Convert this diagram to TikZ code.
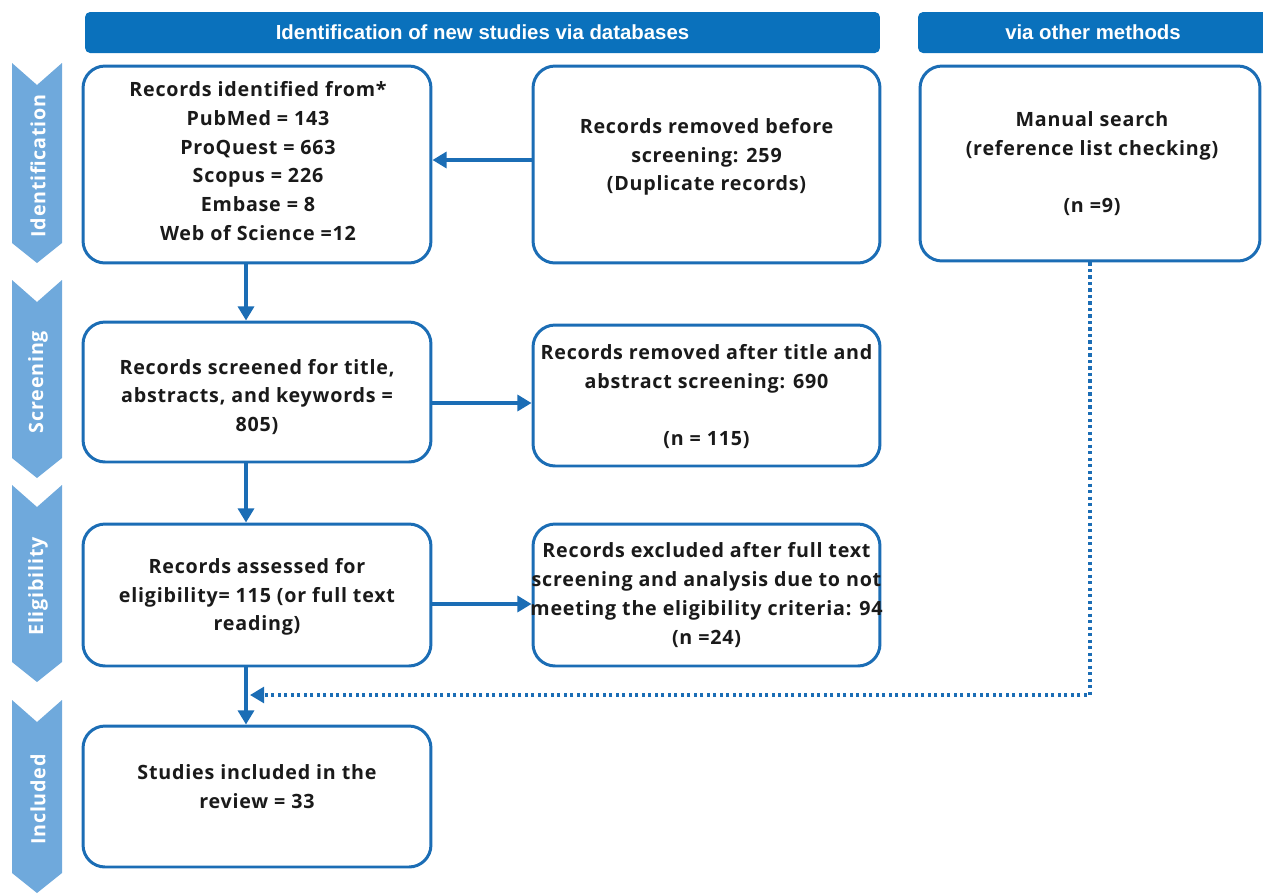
\documentclass[tikz,border=0pt]{standalone}
\usepackage{fontspec}
\setmainfont{Open Sans}[LetterSpace=4]
\newfontfamily\headfont{Liberation Sans}
\usetikzlibrary{arrows.meta}
\definecolor{prismablue}{HTML}{0A71BC}
\definecolor{boxline}{HTML}{1B6DB5}
\definecolor{phase}{HTML}{6FA9DC}
\definecolor{boxtext}{HTML}{1A1A1A}
\tikzset{
  caixa/.style={draw=boxline, line width=1.7pt, rounded corners=0.44cm, fill=white},
  texto/.style={align=center, text=boxtext, font=\fontsize{11.2}{16.4}\selectfont\bfseries},
  cabeca/.style={fill=prismablue, rounded corners=0.1cm, text=white,
    font=\headfont\fontsize{11.6}{14}\selectfont\bfseries, minimum height=0.82cm},
  seta/.style={draw=boxline, line width=2pt, -{Triangle[length=8pt,width=9pt]}},
  pontos/.style={draw=boxline, line width=1.8pt, dash pattern=on 1.8pt off 1.9pt,
    -{Triangle[length=8pt,width=9pt]}},
}
\newcommand{\fase}[4]{%
  \fill[phase] (12,#2) -- (37,#2+22) -- (62,#2) -- (62,#3-20) -- (37,#3) -- (12,#3-20) -- cycle;
  \node[rotate=90, text=white, font=\fontsize{11.2}{12}\selectfont\bfseries] (#1)
    at (38,{(#2+#3)/2+3}) {#4};}

\begin{document}
\begin{tikzpicture}[x=0.02cm, y=-0.02cm]
  \useasboundingbox (0,0) rectangle (1263,893);
  % cabecalhos
  \node[cabeca, minimum width=15.9cm] (hdbase) at (482.5,32.5) {Identification of new studies via databases};
  \node[cabeca, minimum width=7cm] (hdother) at (1093,32.5) {via other methods};
  % fases
  \fase{fident}{63}{263}{Identification}
  \fase{fscreen}{280}{478}{Screening}
  \fase{felig}{485}{682}{Eligibility}
  \fase{fincl}{700}{893}{Included}
  % caixas
  \node[caixa, minimum width=6.96cm, minimum height=3.94cm] (ident) at (257,164.5) {};
  \node[caixa, minimum width=6.94cm, minimum height=3.94cm] (removed) at (706.5,164.5) {};
  \node[caixa, minimum width=6.8cm, minimum height=3.9cm] (manual) at (1090,163.5) {};
  \node[caixa, minimum width=6.96cm, minimum height=2.8cm] (screen) at (257,392) {};
  \node[caixa, minimum width=6.94cm, minimum height=2.82cm] (removedB) at (706.5,395.5) {};
  \node[caixa, minimum width=6.96cm, minimum height=2.84cm] (assess) at (257,595) {};
  \node[caixa, minimum width=6.94cm, minimum height=2.84cm] (excl) at (706.5,595) {};
  \node[caixa, minimum width=6.96cm, minimum height=2.82cm] (incl) at (257,796.5) {};
  % textos
  \node[texto] (identT) at (258,161) {Records identified from*\\PubMed = 143\\ProQuest = 663\\Scopus = 226\\Embase = 8\\Web of Science =12};
  \node[texto] (removedT) at (706.5,157) {Records removed before\\screening: 259\\(Duplicate records)};
  \node[texto] (manualT) at (1092,163.5) {Manual search\\(reference list checking)\\[16.4pt](n =9)};
  \node[texto] (screenT) at (257,397) {Records screened for title,\\abstracts, and keywords =\\805)};
  \node[texto] (removedBT) at (706.5,396.5) {Records removed after title and\\abstract screening: 690\\[16.4pt](n = 115)};
  \node[texto] (assessT) at (257,597) {Records assessed for\\eligibility= 115 (or full text\\reading)};
  \node[texto] (exclT) at (706.5,595) {Records excluded after full text\\screening and analysis due to not\\meeting the eligibility criteria: 94\\(n =24)};
  \node[texto] (inclT) at (257,787) {Studies included in the\\review = 33};
  % setas
  \coordinate (spine) at (246,0);
  \coordinate (join) at (250,695);
  \coordinate (rowA) at ([yshift=0.09cm]removed.west);
  \coordinate (rowD) at ([yshift=-0.22cm]screen.east);
  \coordinate (rowF) at ([yshift=-0.18cm]assess.east);
  \draw[seta] (rowA) -- (rowA -| ident.east);
  \draw[seta] (ident.south -| spine) -- (screen.north -| spine);
  \draw[seta] (rowD) -- (rowD -| removedB.west);
  \draw[seta] (screen.south -| spine) -- (assess.north -| spine);
  \draw[seta] (rowF) -- (rowF -| excl.west);
  \draw[seta] (assess.south -| spine) -- (incl.north -| spine);
  \draw[pontos] (manual.south) |- (join);
\end{tikzpicture}
\end{document}
